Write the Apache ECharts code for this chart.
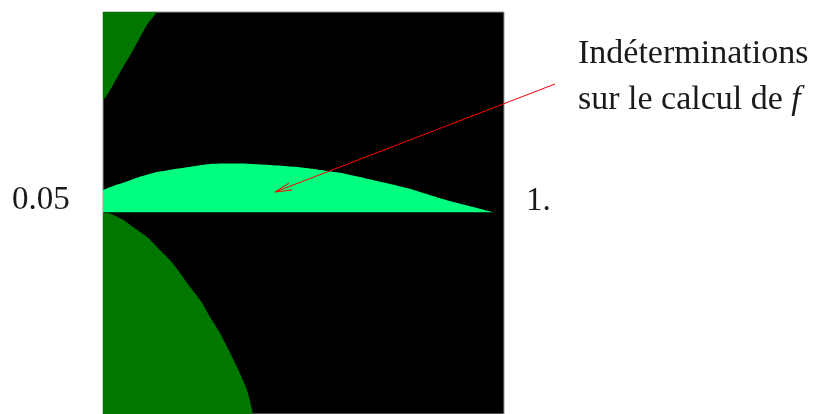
<!DOCTYPE html>
<html>
<head>
<meta charset="utf-8">
<script src="https://cdn.jsdelivr.net/npm/echarts@6/dist/echarts.min.js"></script>
<style>
html, body { margin: 0; padding: 0; background: #fff; }
#main { width: 817px; height: 414px; }
</style>
</head>
<body>
<div id="main"></div>
<script>
'use strict';

// positions inside the square, 0..1 on both axes (y = 1 is the top)
let topLeftX = [0, 0.005, 0.022, 0.05, 0.075, 0.11, 0.135];
let topLeftY = [0.781, 0.786, 0.813, 0.863, 0.905, 0.968, 1.0];

let lensX = [0, 0.025, 0.05, 0.092, 0.135, 0.209, 0.267, 0.342, 0.424, 0.491, 0.591, 0.673, 0.758, 0.84, 0.923, 0.973];
let lensY = [0.557, 0.567, 0.575, 0.59, 0.602, 0.614, 0.622, 0.623, 0.619, 0.614, 0.6, 0.582, 0.562, 0.537, 0.515, 0.502];
let lensBase = 0.502;

let bottomLeftX = [0, 0.017, 0.05, 0.075, 0.11, 0.135, 0.167, 0.192, 0.217, 0.242, 0.267, 0.292, 0.317, 0.334, 0.359, 0.374];
let bottomLeftY = [0.5, 0.499, 0.483, 0.465, 0.44, 0.415, 0.383, 0.351, 0.316, 0.284, 0.241, 0.201, 0.152, 0.117, 0.06, 0.002];

let leftLabel = '0.05';
let rightLabel = '1.';
let noteLines = ['Indéterminations', 'sur le calcul de {i|f}'];

function pairs(xs, ys) {
	let out = [];
	for (let i = 0; i < xs.length; i++) {
		out.push([xs[i], ys[i]]);
	}
	return out;
}

function region(data, color, origin) {
	return {
		type: 'line',
		data: data,
		smooth: 0.2,
		showSymbol: false,
		silent: true,
		lineStyle: { width: 0 },
		areaStyle: { color: color, opacity: 1, origin: origin },
		animation: false
	};
}

let myChart = echarts.init(document.getElementById('main'));

let serif = '"Liberation Serif", "DejaVu Serif", serif';
let textStyle = { fill: '#1a1a1a', font: '34px ' + serif };

let option = {
	backgroundColor: '#fff',
	animation: false,
	grid: {
		left: 103,
		top: 12,
		width: 401,
		height: 404,
		show: true,
		backgroundColor: '#000',
		borderColor: '#999',
		borderWidth: 1
	},
	xAxis: { type: 'value', min: 0, max: 1, show: false },
	yAxis: { type: 'value', min: 0, max: 1, show: false },
	series: [
		region(pairs(topLeftX, topLeftY), '#007800', 'end'),
		region(pairs(lensX, lensY), '#00ff7f', lensBase),
		region(pairs(bottomLeftX, bottomLeftY), '#007800', 'start')
	],
	graphic: [
		{
			type: 'text', left: 12, top: 184,
			style: { text: leftLabel, fill: '#1a1a1a', font: '33px ' + serif }
		},
		{
			type: 'text', left: 526, top: 185,
			style: { text: rightLabel, fill: '#1a1a1a', font: '33px ' + serif }
		},
		{
			type: 'text', left: 578, top: 37,
			style: Object.assign({ text: noteLines[0] }, textStyle)
		},
		{
			type: 'text', left: 578, top: 83,
			style: Object.assign({
				text: noteLines[1],
				rich: { i: { font: 'italic 34px ' + serif, fill: '#1a1a1a' } }
			}, textStyle)
		},
		{
			type: 'line', z: 100,
			shape: { x1: 555, y1: 84, x2: 275, y2: 192 },
			style: { stroke: '#ff0000', lineWidth: 1 }
		},
		{
			type: 'polyline', z: 100,
			shape: { points: [[289, 183], [275, 192], [292, 190]] },
			style: { stroke: '#ff0000', lineWidth: 1, fill: null }
		}
	]
};
myChart.setOption(option);
</script>
</body>
</html>
